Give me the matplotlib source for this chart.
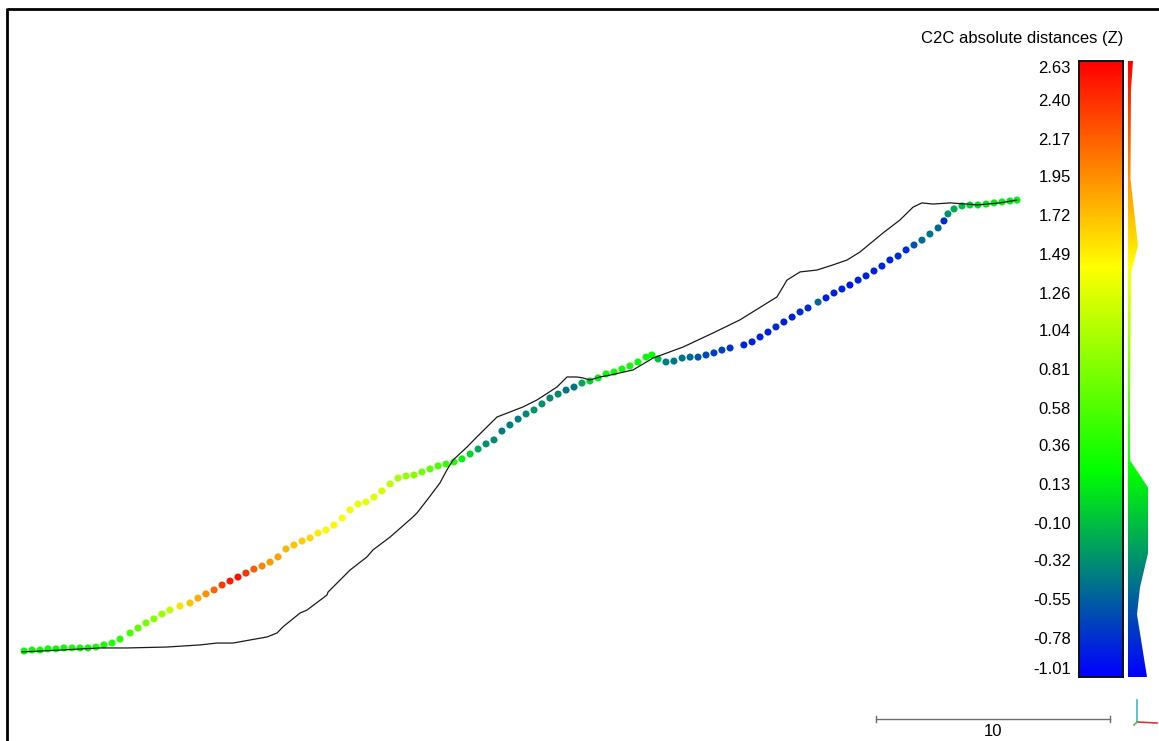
import numpy as np
import matplotlib.pyplot as plt
from matplotlib.colors import LinearSegmentedColormap
from matplotlib.lines import Line2D
from matplotlib.patches import Polygon

plt.rcParams['font.family'] = ['Liberation Sans', 'DejaVu Sans']

# reference surface (black profile): distance along section, elevation (m)
ref_dist = [0.00, 1.62, 3.33, 4.49, 6.20, 7.61, 8.33, 9.02, 9.74, 10.47, 10.90, 11.15,
            11.88, 12.18, 13.03, 13.08, 14.02, 14.74, 15.00, 15.73, 16.71, 16.88, 17.31,
            17.86, 18.16, 18.42, 19.02, 19.44, 20.30, 21.41, 22.01, 22.86, 23.08, 23.29,
            23.72, 23.97, 24.27, 24.70, 25.13, 26.11, 26.97, 28.25, 29.53, 30.68, 31.84,
            32.26, 32.52, 32.69, 33.25, 33.97, 34.66, 35.26, 35.81, 36.79, 37.52, 38.08,
            38.46, 38.93, 39.66, 40.38, 40.81, 41.79, 42.52]
ref_elev = [-0.04, 0.04, 0.13, 0.13, 0.17, 0.26, 0.34, 0.34, 0.47, 0.60, 0.77, 1.03,
            1.62, 1.75, 2.39, 2.52, 3.46, 4.02, 4.32, 4.87, 5.73, 5.90, 6.45,
            7.18, 7.74, 8.16, 8.72, 9.15, 10.00, 10.43, 10.73, 11.28, 11.50, 11.71,
            11.71, 11.67, 11.58, 11.71, 11.79, 12.01, 12.52, 12.99, 13.59, 14.15, 14.87,
            15.13, 15.56, 15.85, 16.20, 16.28, 16.50, 16.71, 17.05, 17.86, 18.42, 18.97,
            19.15, 19.10, 19.15, 19.10, 19.06, 19.15, 19.27]

# compared cloud: distance, elevation (m) and C2C Z distance (m)
pts_dist = [0.09, 0.43, 0.77, 1.11, 1.45, 1.79, 2.14, 2.48, 2.82, 3.16, 3.50, 3.85, 4.19,
            4.62, 4.96, 5.30, 5.64, 5.98, 6.32, 6.75, 7.18, 7.52, 7.86, 8.21, 8.55, 8.89,
            9.23, 9.57, 9.91, 10.26, 10.60, 10.94, 11.28, 11.62, 11.97, 12.31, 12.65, 12.99,
            13.33, 13.68, 14.02, 14.36, 14.70, 15.04, 15.38, 15.73, 16.07, 16.41, 16.75,
            17.09, 17.44, 17.78, 18.12, 18.46, 18.80, 19.15, 19.49, 19.83, 20.17, 20.51,
            20.85, 21.20, 21.54, 21.88, 22.22, 22.56, 22.91, 23.25, 23.59, 23.93, 24.27,
            24.62, 24.96, 25.30, 25.64, 25.98, 26.32, 26.67, 26.92, 27.18, 27.52, 27.86,
            28.21, 28.55, 28.89, 29.23, 29.57, 29.91, 30.26, 30.85, 31.20, 31.54, 31.88,
            32.22, 32.56, 32.91, 33.25, 33.59, 34.02, 34.36, 34.70, 35.04, 35.38, 35.73,
            36.07, 36.41, 36.75, 37.09, 37.44, 37.78, 38.12, 38.46, 38.80, 39.15, 39.40,
            39.57, 39.83, 40.17, 40.51, 40.85, 41.20, 41.54, 41.88, 42.22, 42.52]
pts_elev = [0.00, 0.04, 0.04, 0.09, 0.09, 0.13, 0.13, 0.13, 0.13, 0.17, 0.26, 0.34, 0.51,
            0.77, 0.98, 1.20, 1.37, 1.58, 1.75, 1.92, 2.05, 2.26, 2.44, 2.61, 2.82, 2.99,
            3.16, 3.33, 3.50, 3.63, 3.80, 4.02, 4.36, 4.53, 4.70, 4.83, 5.04, 5.17,
            5.38, 5.68, 6.03, 6.28, 6.37, 6.58, 6.84, 7.14, 7.39, 7.48, 7.52,
            7.65, 7.78, 7.91, 7.99, 8.08, 8.21, 8.42, 8.63, 8.85, 9.02, 9.40,
            9.66, 9.91, 10.13, 10.30, 10.56, 10.81, 10.98, 11.15, 11.28, 11.45, 11.54,
            11.67, 11.84, 11.92, 12.05, 12.18, 12.35, 12.56, 12.65, 12.48, 12.35, 12.39,
            12.52, 12.56, 12.56, 12.65, 12.74, 12.86, 12.95, 13.08, 13.21, 13.42, 13.63,
            13.85, 14.06, 14.27, 14.49, 14.66, 14.91, 15.09, 15.30, 15.47, 15.64, 15.85,
            16.03, 16.24, 16.45, 16.71, 16.88, 17.14, 17.35, 17.56, 17.82, 18.08, 18.38,
            18.68, 18.89, 19.02, 19.06, 19.06, 19.10, 19.15, 19.19, 19.23, 19.27]
pts_c2c = [0.20, 0.20, 0.25, 0.25, 0.20, 0.25, 0.30, 0.25, 0.20, 0.30, 0.30, 0.35, 0.40,
           0.55, 0.65, 0.75, 0.85, 0.95, 1.10, 1.55, 1.70, 1.80, 1.95, 2.15, 2.35, 2.50,
           2.55, 2.40, 2.20, 2.00, 1.90, 1.85, 1.75, 1.70, 1.65, 1.60, 1.50, 1.45,
           1.45, 1.40, 1.35, 1.30, 1.30, 1.25, 1.20, 1.10, 1.00, 0.90, 0.85,
           0.75, 0.65, 0.55, 0.45, 0.35, 0.15, 0.00, -0.20, -0.30, -0.35, -0.40,
           -0.40, -0.40, -0.35, -0.30, -0.30, -0.35, -0.35, -0.45, -0.45, -0.20, 0.00,
           0.15, 0.20, 0.25, 0.25, 0.25, 0.20, 0.20, 0.20, -0.10, -0.40, -0.45,
           -0.45, -0.50, -0.60, -0.65, -0.70, -0.70, -0.75, -0.85, -0.85, -0.85, -0.85,
           -0.80, -0.85, -0.85, -0.80, -0.80, -0.50, -0.85, -0.85, -0.85, -0.90, -0.85,
           -0.85, -0.85, -0.85, -0.85, -0.80, -0.80, -0.60, -0.50, -0.45, -0.50, -0.80,
           -0.30, -0.20, -0.10, 0.00, 0.05, 0.10, 0.10, 0.15, 0.10, 0.15]

# colour scale and its histogram
vmin, vmax = -1.01, 2.63
tick_values = [2.63, 2.40, 2.17, 1.95, 1.72, 1.49, 1.26, 1.04, 0.81, 0.58, 0.36, 0.13,
               -0.10, -0.32, -0.55, -0.78, -1.01]
tick_labels = ['2.63', '2.40', '2.17', '1.95', '1.72', '1.49', '1.26', '1.04', '0.81',
               '0.58', '0.36', '0.13', '-0.10', '-0.32', '-0.55', '-0.78', '-1.01']
hist_values = [2.63, 2.46, 1.93, 1.54, 1.38, 0.63, 0.27, 0.11, -0.28, -0.48, -0.64, -1.01]
hist_counts = [5, 3, 2.5, 10, 3, 2, 2, 20, 20, 12, 9, 19]

cmap = LinearSegmentedColormap.from_list('bgyr', ['#0000ff', '#00ff00', '#ffff00', '#ff0000'])

W, H = 1159, 741
fig = plt.figure(figsize=(W / 100, H / 100), dpi=100)
fig.patch.set_facecolor('white')


def fx(px):
    return px / W


def fy(py):
    return 1 - py / H


# main view, 23.4 px per metre
scale = 23.4
ax = fig.add_axes([0, 0, 1, 1])
ax.set_xlim(-22 / scale, (W - 22) / scale)
ax.set_ylim((651 - H) / scale, 651 / scale)
ax.axis('off')

ax.scatter(pts_dist, pts_elev, c=pts_c2c, cmap=cmap, vmin=vmin, vmax=vmax,
           s=26, marker='o', linewidths=0, zorder=2)
ax.plot(ref_dist, ref_elev, color='#1a1a1a', lw=0.9, zorder=3)

# scale bar
sb_x, sb_y, sb_len = 36.5, -2.9, 10
ax.plot([sb_x, sb_x + sb_len], [sb_y, sb_y], color='#6e6e6e', lw=1.0)
for xx in (sb_x, sb_x + sb_len):
    ax.plot([xx, xx], [sb_y - 0.13, sb_y + 0.13], color='#6e6e6e', lw=1.0)
ax.text(sb_x + sb_len / 2, sb_y - 0.2, '10', ha='center', va='top', fontsize=12)

# colour bar
cb_top, cb_bot = 61, 677
cax = fig.add_axes([fx(1079), fy(cb_bot), fx(1123) - fx(1079), fy(cb_top) - fy(cb_bot)])
grad = np.linspace(vmin, vmax, 512).reshape(-1, 1)
cax.imshow(grad, cmap=cmap, aspect='auto', origin='lower',
           extent=(0, 1, vmin, vmax), vmin=vmin, vmax=vmax)
cax.set_xlim(0, 1)
cax.set_ylim(vmin, vmax)
cax.set_xticks([])
cax.set_yticks(tick_values)
cax.set_yticklabels(tick_labels, fontsize=12)
cax.tick_params(axis='y', length=0, pad=6)
labels = cax.get_yticklabels()
labels[0].set_verticalalignment('top')
labels[-1].set_verticalalignment('bottom')
for sp in cax.spines.values():
    sp.set_linewidth(1.4)
    sp.set_color('#111111')

fig.text(fx(1123), fy(38), 'C2C absolute distances (Z)', ha='right', va='center',
         fontsize=12)

# histogram beside the colour bar
hax = fig.add_axes([fx(1128), fy(cb_bot), fx(W) - fx(1128), fy(cb_top) - fy(cb_bot)])
hax.set_xlim(0, W - 1128)
hax.set_ylim(vmin, vmax)
hax.axis('off')
poly_xy = [(0, hist_values[0])] + list(zip(hist_counts, hist_values)) + [(0, hist_values[-1])]
poly = Polygon(poly_xy, closed=True, facecolor='none', edgecolor='none')
hax.add_patch(poly)
him = hax.imshow(grad, cmap=cmap, aspect='auto', origin='lower',
                 extent=(0, W - 1128, vmin, vmax), vmin=vmin, vmax=vmax)
him.set_clip_path(poly)

# axis triad
fig.add_artist(Line2D([fx(1137), fx(1137)], [fy(722), fy(700)], color='#3fb4d8', lw=1.2))
fig.add_artist(Line2D([fx(1137), fx(1157)], [fy(722), fy(723)], color='#d23a3a', lw=1.2))
fig.add_artist(Line2D([fx(1134), fx(1137)], [fy(725), fy(722)], color='#4ec24e', lw=1.2))

# window frame
fig.add_artist(Line2D([fx(6.5), fx(W)], [fy(9), fy(9)], color='black', lw=2.0,
                      solid_capstyle='butt'))
fig.add_artist(Line2D([fx(6.5), fx(6.5)], [fy(8), fy(H)], color='black', lw=2.0,
                      solid_capstyle='butt'))

fig.savefig('out.png', dpi=100, facecolor='white')
